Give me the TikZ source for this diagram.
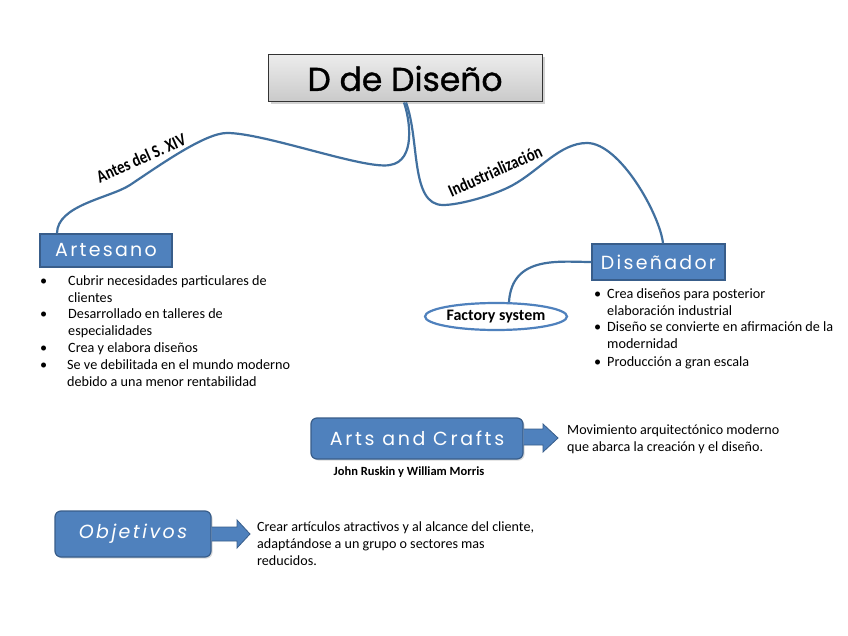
\documentclass[tikz,border=0pt]{standalone}
\usepackage{fontspec}
\setmainfont{Carlito}
\newfontfamily\headfont{Poppins}
\usetikzlibrary{shadows,shapes.geometric}
\definecolor{boxblue}{HTML}{4F81BD}
\definecolor{boxedge}{HTML}{385D8A}
\definecolor{linkblue}{HTML}{41709F}
\tikzset{
  titlebox/.style={draw=black!80, line width=1pt, top color=gray!15, bottom color=gray!42,
    drop shadow={shadow xshift=2.5pt, shadow yshift=-2.5pt, opacity=0.35},
    font=\headfont\fontsize{33}{35}\selectfont\addfontfeature{FakeBold=1}, inner sep=0pt},
  bluebox/.style={draw=boxedge, line width=1.2pt, fill=boxblue, text=white,
    font=\headfont\fontsize{19}{21}\selectfont\addfontfeature{LetterSpace=12}, inner sep=0pt},
  roundbox/.style={bluebox, rounded corners=6pt,
    drop shadow={shadow xshift=1.5pt, shadow yshift=-1.5pt, opacity=0.3}},
  link/.style={draw=linkblue, line width=2.2pt},
  curvelabel/.style={font=\bfseries\fontsize{18}{19}\selectfont, inner sep=0pt, rotate=24},
  bullettext/.style={font=\fontsize{14.2}{16.7}\selectfont, align=left, anchor=north west, inner sep=0pt},
  bulletdot/.style={font=\fontsize{14.2}{16.7}\selectfont, anchor=north west, inner sep=0pt},
  blockarrow/.style={fill=boxblue, draw=boxedge, line width=0.8pt, line join=miter},
  plain/.style={font=\fontsize{14.1}{16.9}\selectfont, align=left, anchor=north west, inner sep=0pt}
}
\begin{document}
\begin{tikzpicture}[x=1pt,y=-1pt]
\useasboundingbox[fill=white] (0,0) rectangle (848,636);

% nodes
\node[titlebox, minimum width=274pt, minimum height=47pt] (title) at (405,78.5) {D de Diseño};
\node[bluebox, minimum width=132pt, minimum height=33pt] (art) at (106,250.5) {Artesano};
\node[bluebox, minimum width=133pt, minimum height=36pt] (dis) at (658.5,262) {Diseñador};
\node[ellipse, draw=boxblue, line width=2.2pt, fill=white, minimum width=142pt, minimum height=27pt,
      inner sep=0pt, font=\bfseries\fontsize{16}{17}\selectfont] (fac) at (496,316.5) {Factory system};
\node[roundbox, minimum width=212pt, minimum height=41pt, font=\headfont\fontsize{19}{21}\selectfont\addfontfeature{LetterSpace=14}] (ac) at (417,438.5) {Arts and Crafts};
\node[roundbox, minimum width=156pt, minimum height=46pt, font=\headfont\itshape\fontsize{19}{21}\selectfont\addfontfeature{LetterSpace=13}] (obj) at (133,534) {Objetivos};

% connectors
\coordinate (l1) at (390,165);
\coordinate (l2) at (227,133);
\coordinate (l3) at (130,185);
\draw[link] ([xshift=-1pt]title.south) .. controls (410,120) and (416,161) .. (l1)
  .. controls (365,170) and (265,133) .. (l2)
  .. controls (205,133) and (160,165) .. (l3)
  .. controls (110,198) and (57,205) .. (art.north -| 57,0);
\coordinate (r1) at (443,205);
\coordinate (r2) at (513,185);
\coordinate (r3) at (587,143);
\draw[link] ([xshift=1pt]title.south) .. controls (420,140) and (410,205) .. (r1)
  .. controls (460,205) and (495,195) .. (r2)
  .. controls (540,170) and (560,143) .. (r3)
  .. controls (620,143) and (660,215) .. (dis.north -| 663,0);
\draw[link] (dis.west) .. controls (560,262) and (512,255) .. (fac.north -| 509,0);

% curve labels
\node[curvelabel] (lab1) at (141,158) {\scalebox{0.82}[1]{Antes del S. XIV}};
\node[curvelabel] (lab2) at (495,171) {\scalebox{0.82}[1]{Industrialización}};

% Artesano bullets
\node[bulletdot] (ab1) at (40,273.8) {\strut•};
\node[bullettext] (at1) at (68,273.8) {\strut Cubrir necesidades particulares de\\clientes};
\node[bulletdot] (ab2) at (40,306.8) {\strut•};
\node[bullettext] (at2) at (68,306.8) {\strut Desarrollado en talleres de\\especialidades};
\node[bulletdot] (ab3) at (40,340.8) {\strut•};
\node[bullettext] (at3) at (68,340.8) {\strut Crea y elabora diseños};
\node[bulletdot] (ab4) at (40,357.8) {\strut•};
\node[bullettext] (at4) at (67,357.8) {\strut Se ve debilitada en el mundo moderno\\debido a una menor rentabilidad};

% Disenador bullets
\node[bulletdot] (db1) at (594,286.8) {\strut•};
\node[bullettext] (dt1) at (607,286.8) {\strut Crea diseños para posterior\\elaboración industrial};
\node[bulletdot] (db2) at (594,319.8) {\strut•};
\node[bullettext] (dt2) at (607,319.8) {\strut Diseño se convierte en afirmación de la\\modernidad};
\node[bulletdot] (db3) at (594,354.8) {\strut•};
\node[bullettext] (dt3) at (607,354.8) {\strut Producción a gran escala};

% Arts and crafts
\node[font=\bfseries\fontsize{12.5}{13}\selectfont, inner sep=0pt] (jr) at (409,472) {John Ruskin y William Morris};
\draw[blockarrow] (ac.east |- 0,429) -- (543,429) -- (543,424) -- (558,438) -- (543,452) -- (543,445) -- (ac.east |- 0,445);
\node[plain] (mov) at (567,422.8) {\strut Movimiento arquitectónico moderno\\que abarca la creación y el diseño.};

% Objetivos
\draw[blockarrow] (obj.east |- 0,527) -- (237,527) -- (237,520) -- (250,534) -- (237,548) -- (237,541) -- (obj.east |- 0,541);
\node[plain] (crear) at (257,519.8) {\strut Crear artículos atractivos y al alcance del cliente,\\adaptándose a un grupo o sectores mas\\reducidos.};
\end{tikzpicture}
\end{document}
